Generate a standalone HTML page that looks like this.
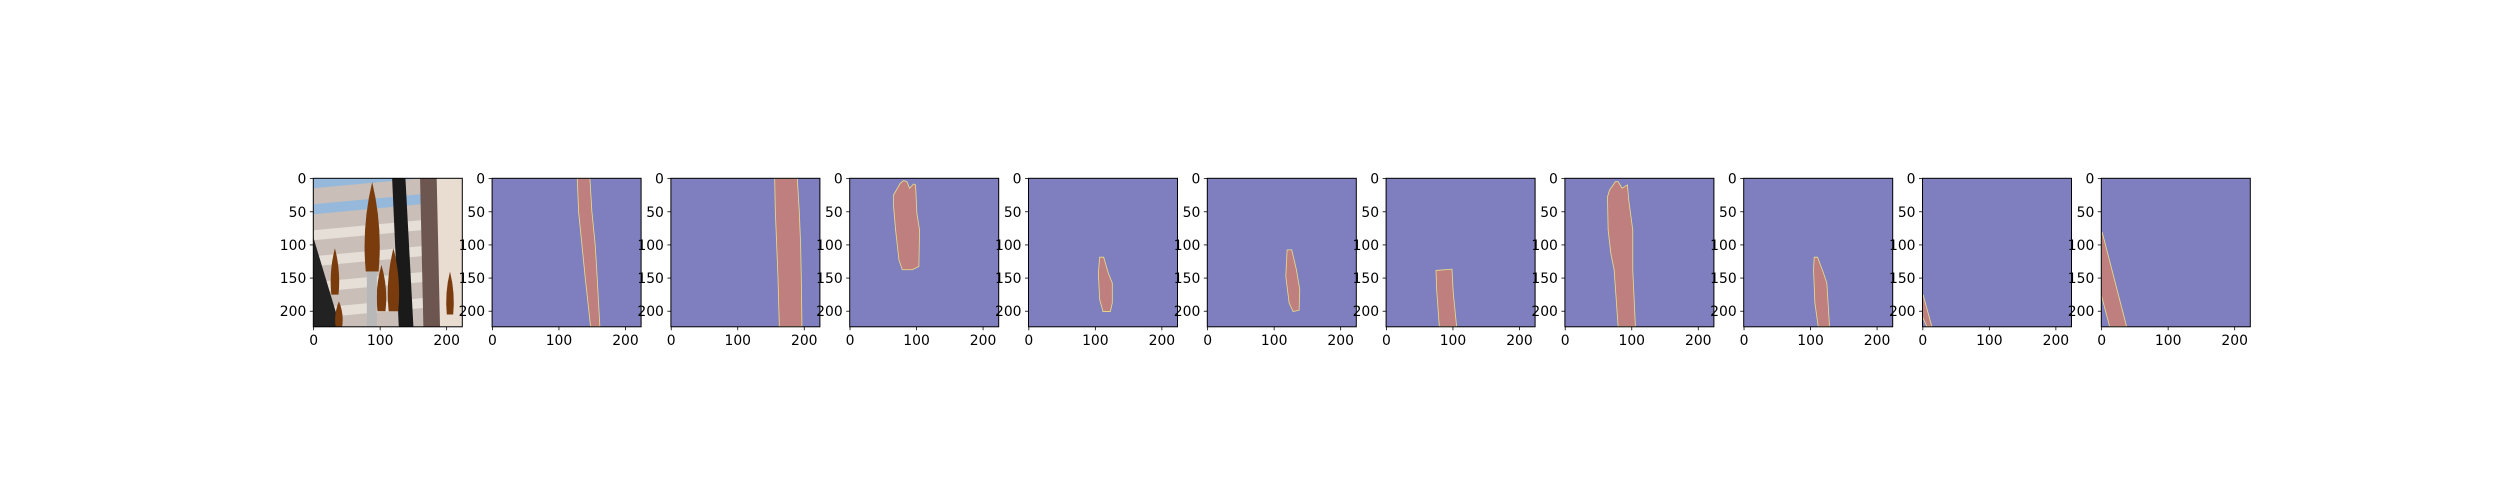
<!DOCTYPE html>
<html><head><meta charset="utf-8"><style>
html,body{margin:0;padding:0;background:#fff;}
svg{display:block;}
text{font-family:"DejaVu Sans","Liberation Sans",sans-serif;font-size:13.9px;fill:#000;}
</style></head><body>
<svg id="fig" width="2500" height="500" viewBox="0 0 2500 500" xmlns="http://www.w3.org/2000/svg"></svg>
<script>
// Data: mask polygons (image pixel coords, 224x224) per panel
const maskPanels = [
  [[128,0],[147,0],[150,50],[155,100],[158,150],[162,223.5],[148,223.5],[140,150],[135,100],[130,50]],
  [[156,0],[190,0],[193,50],[195,100],[196,150],[197,223.5],[163,223.5],[161,150],[159,100],[157,50]],
  [[66,25],[76,7.5],[81,3.5],[86,5],[90,15],[96,8.5],[99,10],[101,53],[105,78],[104,133],[94,138],[79,138],[74,123],[69,78],[66,43]],
  [[107,119],[113,119],[120,143],[126,158],[126,188],[123,201],[112,201],[107,183],[105,143]],
  [[120,108],[127,108],[134,138],[139,168],[138,199],[129,201],[123,188],[118,148]],
  [[75,139],[99,137],[101,173],[106,223.5],[80,223.5],[76,168]],
  [[64,28],[67,18],[76,5],[80,5],[86,15],[94,10],[96,33],[102,78],[102,138],[106,223.5],[80,223.5],[74,138],[69,113],[65,78]],
  [[106,119],[111,119],[120,143],[125,158],[129,223.5],[112,223.5],[107,188],[105,138]],
  [[0,176],[1,176],[14,223.5],[6.5,223.5],[0,209]],
  [[0,85],[1.5,82],[38,223.5],[12.5,223.5],[0,176]]
];
const xTicks = [0,100,200];
const yTicks = [0,50,100,150,200];

const NS = "http://www.w3.org/2000/svg";
const svg = document.getElementById('fig');
const AX0 = 313.3, DX = 178.8, AY = 178.3, AW = 149, AH = 148.5;
function mk(tag, attrs, parent){const e=document.createElementNS(NS,tag);for(const k in attrs)e.setAttribute(k,attrs[k]);(parent||svg).appendChild(e);return e;}

for (let p=0;p<11;p++){
  const left = AX0 + p*DX;
  const sx = v => left + (v+0.5)*AW/224;
  const sy = v => AY + (v+0.5)*AH/224;
  const g = mk('g',{});
  
  
  const clipId='c'+p;
  const cp=mk('clipPath',{id:clipId},g); mk('rect',{x:left,y:AY,width:AW,height:AH},cp);
  if (p===0){
    const im = mk('g',{'clip-path':'url(#'+clipId+')'},g);
    
    
    mk('rect',{x:left,y:AY,width:AW,height:AH,fill:'#c9bfb8'},im);
    // blinds
    for(let i=0;i<6;i++){ mk('polygon',{points:`${left},${AY+i*26} ${left+AW},${AY-14+i*26} ${left+AW},${AY-4+i*26} ${left},${AY+10+i*26}`,fill:i<2?'#8fb7df':'#e8e2dc',opacity:0.9},im); }
    mk('rect',{x:left+AW*0.78,y:AY,width:AW*0.22,height:AH,fill:'#e9ddd2'},im);
    // dark rods
    mk('polygon',{points:`${sx(118)},${AY} ${sx(138)},${AY} ${sx(150)},${AY+AH} ${sx(128)},${AY+AH}`,fill:'#1a1a1a'},im);
    mk('polygon',{points:`${sx(160)},${AY} ${sx(185)},${AY} ${sx(190)},${AY+AH} ${sx(165)},${AY+AH}`,fill:'#6d5650'},im);
    mk('polygon',{points:`${sx(0)},${sy(90)} ${sx(40)},${AY+AH} ${sx(0)},${AY+AH}`,fill:'#222'},im);
    // brush heads
    const brush=(cx,top,bot,w)=>mk('path',{d:`M${sx(cx)},${sy(top)} Q${sx(cx+w)},${sy((top+bot)/2)} ${sx(cx+w*0.6)},${sy(bot)} L${sx(cx-w*0.6)},${sy(bot)} Q${sx(cx-w)},${sy((top+bot)/2)} ${sx(cx)},${sy(top)}Z`,fill:'#7a3c0c'},im);
    brush(88,5,140,16); brush(120,105,200,12); brush(102,130,200,10); brush(32,105,175,9); brush(205,140,205,8); brush(38,185,224,8);
    mk('rect',{x:sx(80),y:sy(140),width:10,height:AH*0.4,fill:'#b8b8b8'},im);
  } else {
    const bg = mk('rect',{x:left,y:AY,width:AW,height:AH,fill:'#7f7fbf'},g);
    
    
    const pts = maskPanels[p-1].map(q=>sx(q[0]-0.5)+','+sy(q[1]-0.5)).join(' ');
    const poly = mk('polygon',{points:pts,fill:'#bf7f7f',stroke:'#e6e08a','stroke-width':0.8,'clip-path':'url(#'+clipId+')'},g);
    
    
  }
  const fr = mk('rect',{x:left,y:AY,width:AW,height:AH,fill:'none',stroke:'#000','stroke-width':1},g);
  
  
  xTicks.forEach(t=>{
    const x=sx(t);
    mk('line',{x1:x,y1:AY+AH,x2:x,y2:AY+AH+3.5,stroke:'#000','stroke-width':0.8},g);
    const tx=mk('text',{x:x,y:AY+AH+18,'text-anchor':'middle'},g); tx.textContent=t;
    
    
  });
  yTicks.forEach(t=>{
    const y=sy(t);
    mk('line',{x1:left-3.5,y1:y,x2:left,y2:y,stroke:'#000','stroke-width':0.8},g);
    const ty=mk('text',{x:left-7,y:y+5,'text-anchor':'end'},g); ty.textContent=t;
    
    
  });
}
</script>
</body></html>
